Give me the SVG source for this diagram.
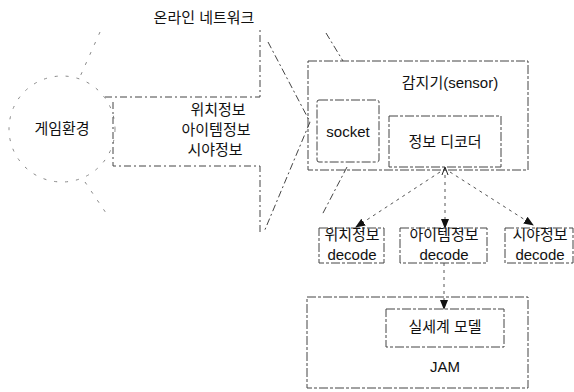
<svg xmlns="http://www.w3.org/2000/svg" width="574" height="392" viewBox="0 0 574 392">
<style>
  text { font-family: "Liberation Sans", "Noto Sans CJK KR", sans-serif; font-size: 15px; fill: #111; text-anchor: middle; }
  .box { fill: none; stroke: #444; stroke-width: 1; stroke-dasharray: 9 2 3 2; }
  .faint { fill: none; stroke: #888; stroke-width: 1; stroke-dasharray: 3 8; }
  .edge { fill: none; stroke: #444; stroke-width: 1; stroke-dasharray: 7 3 2 3; }
  .conn { fill: none; stroke: #555; stroke-width: 1; stroke-dasharray: 3 4; }
</style>
<defs>
  <marker id="ah" markerWidth="10" markerHeight="10" refX="9" refY="5" orient="auto" markerUnits="userSpaceOnUse">
    <path d="M0,1 L10,5 L0,9 Z" fill="#111"/>
  </marker>
  <marker id="ahs" markerWidth="8" markerHeight="8" refX="1" refY="4" orient="auto" markerUnits="userSpaceOnUse">
    <path d="M8,1 L0,4 L8,7" fill="none" stroke="#222"/>
  </marker>
</defs>
<rect width="574" height="392" fill="#fff"/>

<g id="game-env">
  <circle class="faint" cx="62" cy="129" r="53"/>
  <text x="62" y="134">게임환경</text>
</g>

<g id="network">
  <text x="204" y="23">온라인 네트워크</text>
  <path class="edge" d="M105,97 L260,97 L260,28"/>
  <path class="edge" d="M260,232 L260,166 L113,166 L113,100"/>
  <path class="edge" d="M268,42 L310,122 L264,232"/>
  <path class="faint" d="M100,32 L79,79"/>
  <path class="faint" d="M85,182 L106,213"/>
  <text x="218" y="115">위치정보</text>
  <text x="216" y="135">아이템정보</text>
  <text x="215" y="155">시야정보</text>
</g>

<g id="sensor">
  <rect class="box" x="308" y="61" width="220" height="109"/>
  <text x="450" y="88">감지기(sensor)</text>
</g>

<g id="socket">
  <rect class="box" x="317" y="100" width="62" height="62" rx="2"/>
  <text x="348" y="137">socket</text>
</g>

<g id="decoder">
  <rect class="box" x="389" y="116" width="112" height="51"/>
  <text x="445" y="147">정보 디코더</text>
</g>

<g id="pos-decode">
  <rect class="box" x="319" y="228" width="65" height="35"/>
  <text x="352" y="240">위치정보</text>
  <text x="352" y="260">decode</text>
</g>

<g id="item-decode">
  <rect class="box" x="400" y="228" width="87" height="35"/>
  <text x="444" y="240">아이템정보</text>
  <text x="444" y="260">decode</text>
</g>

<g id="view-decode">
  <rect class="box" x="505" y="228" width="68" height="35"/>
  <text x="540" y="240">시야정보</text>
  <text x="540" y="260">decode</text>
</g>

<g id="jam">
  <rect class="box" x="307" y="297" width="221" height="91"/>
  <text x="445" y="372" font-size="14">JAM</text>
</g>

<g id="world-model">
  <rect class="box" x="386" y="309" width="118" height="38"/>
  <text x="445" y="332" font-size="14">실세계 모델</text>
</g>

<g id="connectors">
  <line class="edge" x1="326" y1="33" x2="343" y2="61"/>
  <line class="edge" x1="347" y1="167" x2="322" y2="215"/>
  <line class="conn" x1="440" y1="172" x2="356" y2="227" marker-end="url(#ah)"/>
  <line class="conn" x1="445" y1="168" x2="445" y2="228" marker-start="url(#ahs)" marker-end="url(#ah)"/>
  <line class="conn" x1="450" y1="172" x2="533" y2="225" marker-end="url(#ah)"/>
  <line class="conn" x1="444" y1="263" x2="444" y2="309" marker-end="url(#ah)"/>
</g>
</svg>
